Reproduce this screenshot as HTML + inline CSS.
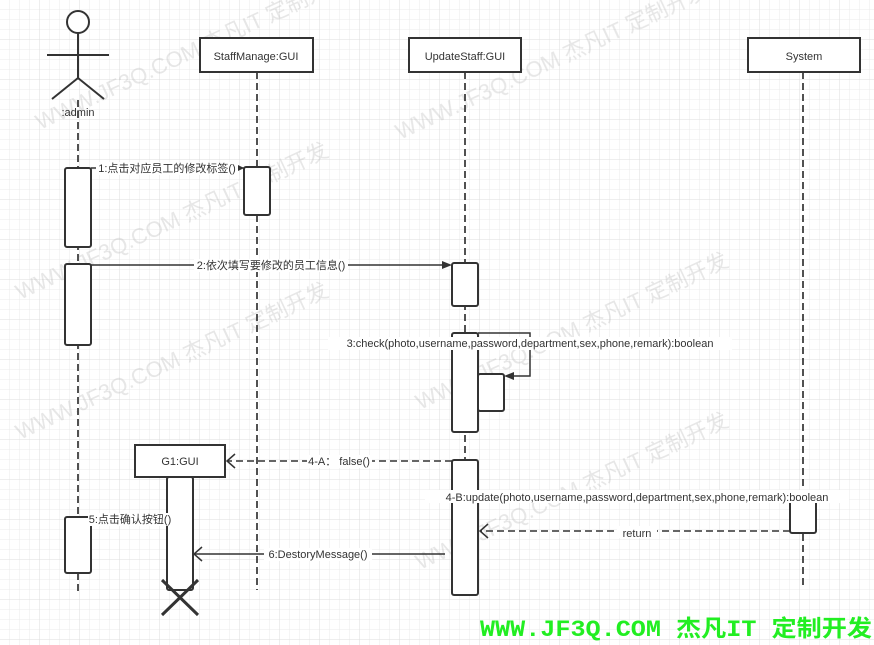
<!DOCTYPE html>
<html><head><meta charset="utf-8"><style>
body{margin:0;width:874px;height:645px;overflow:hidden;background:#fff;}
svg{display:block}
text{font-family:"Liberation Sans","Noto Sans CJK SC",sans-serif;font-size:11px;fill:#333}
</style></head><body>
<svg width="874" height="645" viewBox="0 0 874 645">
<defs>
<pattern id="g" width="10" height="10" patternUnits="userSpaceOnUse"><path d="M10 0V10H0" fill="none" stroke="#ebebeb" stroke-width="1"/></pattern>
<pattern id="G" width="40" height="40" patternUnits="userSpaceOnUse"><path d="M40 0V40H0" fill="none" stroke="#dedede" stroke-width="1"/></pattern>
</defs>
<rect width="874" height="645" fill="url(#g)"/>
<rect width="874" height="645" fill="url(#G)"/>
<g style="font-family:'Liberation Serif','Noto Serif CJK SC',serif" opacity="0.35">
<text x="40" y="130" transform="rotate(-25 40 130)" style="font-size:22px;fill:#bbb">WWW.JF3Q.COM 杰凡IT  定制开发</text>
<text x="20" y="300" transform="rotate(-25 20 300)" style="font-size:22px;fill:#bbb">WWW.JF3Q.COM 杰凡IT  定制开发</text>
<text x="400" y="140" transform="rotate(-25 400 140)" style="font-size:22px;fill:#bbb">WWW.JF3Q.COM 杰凡IT  定制开发</text>
<text x="20" y="440" transform="rotate(-25 20 440)" style="font-size:22px;fill:#bbb">WWW.JF3Q.COM 杰凡IT  定制开发</text>
<text x="420" y="410" transform="rotate(-25 420 410)" style="font-size:22px;fill:#bbb">WWW.JF3Q.COM 杰凡IT  定制开发</text>
<text x="420" y="570" transform="rotate(-25 420 570)" style="font-size:22px;fill:#bbb">WWW.JF3Q.COM 杰凡IT  定制开发</text>
</g>
<g fill="none" stroke="#333" stroke-width="2">
<circle cx="78" cy="22" r="11" fill="#fff"/>
<path d="M78 33V78M47 55H109M52 99L78 78L104 99"/>
<g stroke-dasharray="7,4" stroke-width="1.7">
<path d="M78 100V595"/><path d="M257 72V590"/><path d="M465 72V595"/><path d="M803 72V587"/><path d="M180 477V590"/>
</g>
<rect x="200" y="38" width="113" height="34" fill="#fff"/>
<rect x="409" y="38" width="112" height="34" fill="#fff"/>
<rect x="748" y="38" width="112" height="34" fill="#fff"/>
<rect x="135" y="445" width="90" height="32" fill="#fff"/>
<rect x="65" y="168" width="26" height="79" rx="2" fill="#fff"/>
<rect x="65" y="264" width="26" height="81" rx="2" fill="#fff"/>
<rect x="65" y="517" width="26" height="56" rx="2" fill="#fff"/>
<rect x="244" y="167" width="26" height="48" rx="2" fill="#fff"/>
<rect x="452" y="263" width="26" height="43" rx="2" fill="#fff"/>
<rect x="452" y="333" width="26" height="99" rx="2" fill="#fff"/>
<rect x="478" y="374" width="26" height="37" rx="2" fill="#fff"/>
<rect x="452" y="460" width="26" height="135" rx="2" fill="#fff"/>
<rect x="790" y="500" width="26" height="33" rx="2" fill="#fff"/>
<rect x="167" y="477" width="26" height="113" rx="2" fill="#fff"/>
<path d="M91 168H244" stroke-width="1.5"/>
<path d="M91 265H446" stroke-width="1.5"/>
<path d="M478 333H530V376H510" stroke-width="1.5"/>
<path d="M452 461H228" stroke-width="1.5" stroke-dasharray="7,4"/>
<path d="M235 454L227 461L235 468" stroke-width="1.5"/>
<path d="M790 531H481" stroke-width="1.5" stroke-dasharray="7,4"/>
<path d="M488 524L480 531L488 538" stroke-width="1.5"/>
<path d="M91 518H167" stroke-width="1.5"/>
<path d="M445 554H195" stroke-width="1.5"/>
<path d="M202 547L194 554L202 561" stroke-width="1.5"/>
<path d="M162 580L198 615M198 580L162 615" stroke-width="3"/>
</g>
<path d="M452 265L442 261V269Z" fill="#333"/>
<path d="M504 376L514 372V380Z" fill="#333"/>
<path d="M244 168L238 165V171Z" fill="#333"/>
<text x="78" y="116" text-anchor="middle" font-size="12">:admin</text>
<text x="256" y="60" text-anchor="middle">StaffManage:GUI</text>
<text x="465" y="60" text-anchor="middle">UpdateStaff:GUI</text>
<text x="804" y="60" text-anchor="middle">System</text>
<text x="180" y="465" text-anchor="middle">G1:GUI</text>
<rect x="96" y="162" width="142" height="13" fill="#fff"/><text x="167" y="172" text-anchor="middle">1:点击对应员工的修改标签()</text>
<rect x="194" y="259" width="154" height="13" fill="#fff"/><text x="271" y="269" text-anchor="middle">2:依次填写要修改的员工信息()</text>
<rect x="328" y="337" width="404" height="13" fill="#fff"/><text x="530" y="347" text-anchor="middle">3:check(photo,username,password,department,sex,phone,remark):boolean</text>
<rect x="307" y="455" width="65" height="13" fill="#fff"/><text x="339" y="465" text-anchor="middle">4-A： false()</text>
<rect x="425" y="490" width="424" height="13" fill="#fff"/><text x="637" y="501" text-anchor="middle">4-B:update(photo,username,password,department,sex,phone,remark):boolean</text>
<rect x="617" y="526" width="40" height="12" fill="#fff"/><text x="637" y="537" text-anchor="middle">return</text>
<rect x="88" y="513" width="84" height="13" fill="#fff"/><text x="130" y="523" text-anchor="middle">5:点击确认按钮()</text>
<rect x="264" y="548" width="108" height="13" fill="#fff"/><text x="318" y="558" text-anchor="middle">6:DestoryMessage()</text>
<text x="480" y="636" textLength="392" lengthAdjust="spacingAndGlyphs" style="font-family:'Liberation Mono','Noto Sans CJK SC',monospace;font-size:23px;font-weight:bold;fill:#22ee22">WWW.JF3Q.COM 杰凡IT  定制开发</text>
</svg>
</body></html>
